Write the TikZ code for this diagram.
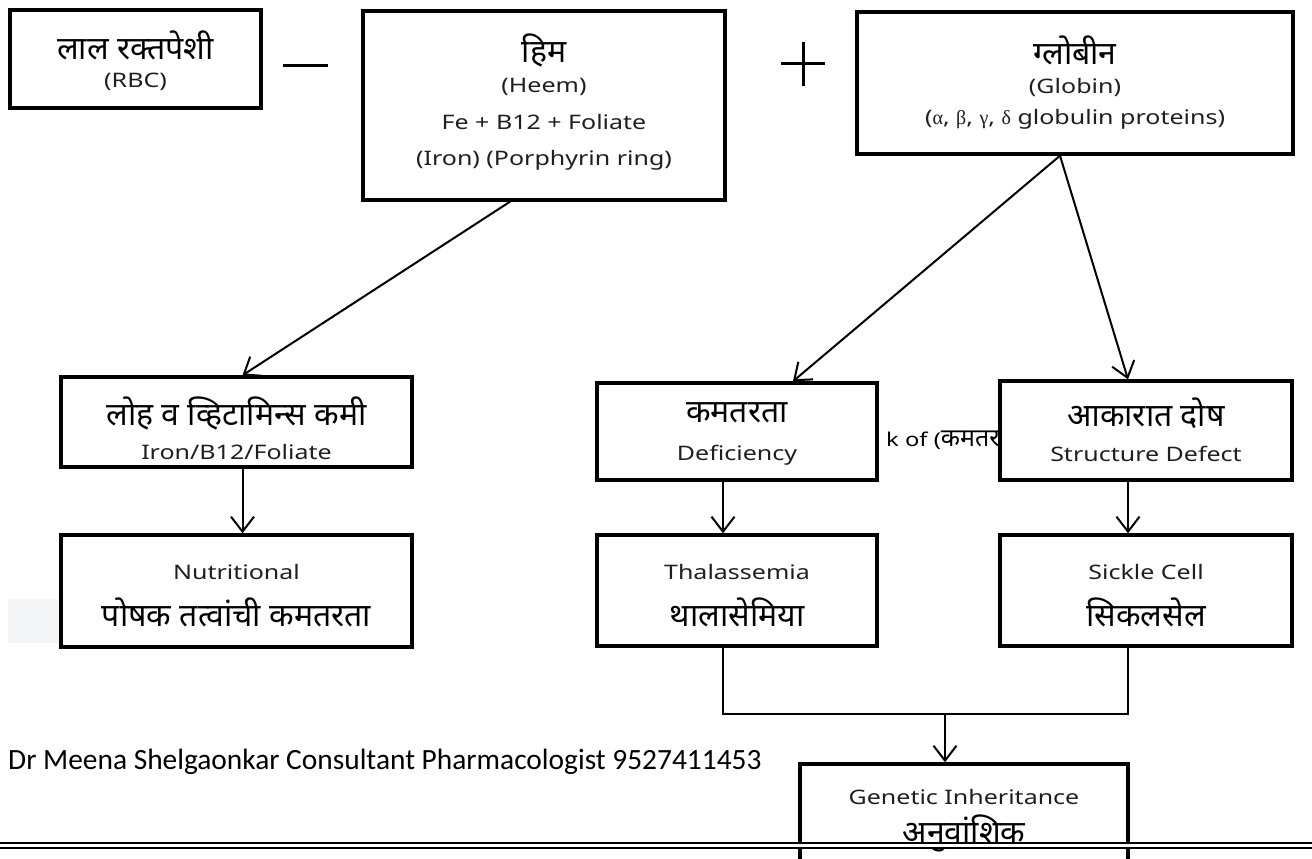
\documentclass[tikz,border=0pt]{standalone}
\usepackage{fontspec}
\setmainfont[FakeStretch=1.25]{Noto Sans}
\newfontfamily\dev[Script=Devanagari]{Noto Sans}
\newfontfamily\grk{Liberation Serif}
\newfontfamily\foot{Carlito}
\usetikzlibrary{arrows.meta}
\tikzset{
  box/.style={draw, line width=3.4pt, fill=white, inner sep=0pt},
  arr/.style={line width=2pt, -{Straight Barb[length=15pt,width=23pt,line width=2pt]}},
  conn/.style={line width=2pt},
  big/.style={font=\dev\fontsize{32}{34}\selectfont, inner sep=0pt},
  small/.style={font=\fontsize{20}{22}\selectfont, inner sep=0pt, text=black!88},
  sign/.style={line width=3pt},
}
\begin{document}
\begin{tikzpicture}[x=1pt,y=-1pt]
\useasboundingbox (0,0) rectangle (1312,859);
\clip (0,0) rectangle (1312,859);
\fill[white] (0,0) rectangle (1312,859);

% hidden text behind boxes
\node[anchor=west, inner sep=0pt, font=\fontsize{19}{21}\selectfont] (lackof) at (886,440) {k of ({\dev\bfseries\fontsize{25}{27}\selectfont कमतरता})};

% light gray patch
\fill[fill={rgb,255:red,244;green,245;blue,247}] (8,599) rectangle (61,643);

% boxes
\node[box, minimum width=251pt, minimum height=98pt] (rbc) at (135.5,59) {};
\node[box, minimum width=362pt, minimum height=189pt] (heem) at (544,105.5) {};
\node[box, minimum width=436pt, minimum height=142pt] (globin) at (1075,83) {};
\node[box, minimum width=351pt, minimum height=90pt] (lohv) at (236.5,422) {};
\node[box, minimum width=280pt, minimum height=97pt] (kam) at (737,431.5) {};
\node[box, minimum width=292pt, minimum height=99pt] (struct) at (1146,430.5) {};
\node[box, minimum width=351pt, minimum height=112pt] (nutr) at (236.5,591) {};
\node[box, minimum width=280pt, minimum height=111pt] (thal) at (737,590.5) {};
\node[box, minimum width=292pt, minimum height=111pt] (sickle) at (1146,590.5) {};
\node[box, minimum width=328pt, minimum height=116pt] (genetic) at (964,822) {};

% labels
\node[big] (rbcA) at (135.5,45) {लाल रक्तपेशी};
\node[small] (rbcB) at (135.5,82) {(RBC)};
\node[big] (heemA) at (544,50) {हिम};
\node[small] (heemB) at (544,87) {(Heem)};
\node[small] (heemC) at (544,122) {Fe + B12 + Foliate};
\node[small] (heemD) at (544,160) {(Iron) (Porphyrin ring)};
\node[big] (globA) at (1075,50) {ग्लोबीन};
\node[small] (globB) at (1075,87) {(Globin)};
\node[small] (globC) at (1075,119) {({\grk α}, {\grk β}, {\grk γ}, {\grk δ} globulin proteins)};
\node[big] (lohA) at (236.5,413) {लोह व व्हिटामिन्स कमी};
\node[small] (lohB) at (236.5,452) {Iron/B12/Foliate};
\node[big] (kamA) at (737,413) {कमतरता};
\node[small] (kamB) at (737,455) {Deficiency};
\node[big] (strA) at (1146,413) {आकारात दोष};
\node[small] (strB) at (1146,454) {Structure Defect};
\node[small] (nutA) at (236.5,572) {Nutritional};
\node[big] (nutB) at (236.5,612) {पोषक तत्वांची कमतरता};
\node[small] (thaA) at (737,572) {Thalassemia};
\node[big] (thaB) at (737,612) {थालासेमिया};
\node[small] (sicA) at (1146,572) {Sickle Cell};
\node[big] (sicB) at (1146,612) {सिकलसेल};
\node[small] (genA) at (964,797) {Genetic Inheritance};
\node[big] (genB) at (964,833) {अनुवांशिक};

\node[anchor=west, inner sep=0pt, font=\foot\fontsize{29.4}{32}\selectfont] (footer) at (8,762) {Dr Meena Shelgaonkar Consultant Pharmacologist 9527411453};

% signs
\draw[sign] (283,66) -- (328,66);
\draw[sign] (781,64) -- (825,64);
\draw[sign] (803,42) -- (803,86);

% connectors
\draw[arr] ([xshift=-34pt]heem.south) -- ([xshift=6pt]lohv.north);
\draw[arr] ([xshift=6pt]lohv.south) -- ([xshift=6pt]nutr.north);
\draw[arr] ([xshift=-15pt]globin.south) -- ([xshift=56pt]kam.north);
\draw[arr] ([xshift=-15pt]globin.south) -- ([xshift=-18pt]struct.north);
\draw[arr] ([xshift=-14pt]kam.south) -- ([xshift=-14pt]thal.south |- thal.north);
\draw[arr] ([xshift=-18pt]struct.south) -- ([xshift=-18pt]sickle.south |- sickle.north);

\coordinate (jl) at (723,714);
\coordinate (jr) at (1128,714);
\coordinate (jm) at (945,714);
\draw[conn] ([xshift=-14pt]thal.south) -- (jl) -- (jr) -- ([xshift=-18pt]sickle.south);
\draw[arr] (jm) -- (jm |- genetic.north);

% bottom double rule
\coordinate (rl) at (0,845.5);
\coordinate (rr) at (1312,845.5);
\draw[line width=2pt, double, double distance=2.5pt] (rl) -- (rr);
\end{tikzpicture}
\end{document}
